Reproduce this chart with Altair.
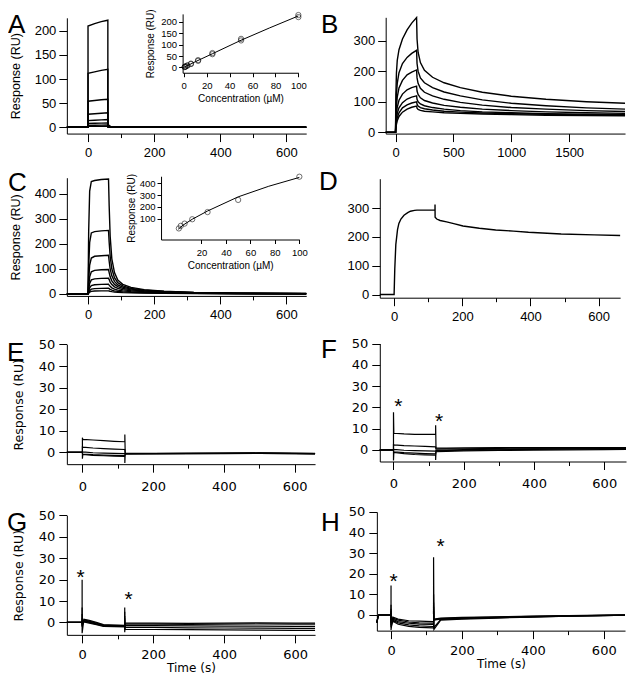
import altair as alt
import pandas as pd

# ------------------------------------------------------------------ data
# Panel A : sensorgrams (time grid shared by all traces)
A_t = [-64, 0, 0, 20, 40, 60, 60, 63, 68, 75, 90, 660]
A_traces = {
    "a1": [0, 0, 210, 215, 219, 222, 8, 4, 2, 1, 0.3, 0],
    "a2": [0, 0, 112, 115, 118, 120, 5, 3, 1.5, 0.8, 0.2, 0],
    "a3": [0, 0, 54, 55.5, 57, 58, 3, 2, 1, 0.5, 0.1, 0],
    "a4": [0, 0, 27, 28, 29, 30, 2, 1, 0.6, 0.3, 0.1, 0],
    "a5": [0, 0, 14, 14.7, 15.3, 16, 1.5, 0.8, 0.4, 0.2, 0, 0],
    "a6": [0, 0, 8, 8.3, 8.6, 9, 1, 0.6, 0.3, 0.1, 0, 0],
    "a7": [0, 0, 4, 4.2, 4.4, 4.6, 0.7, 0.4, 0.2, 0.1, 0, 0],
    "a8": [0, 0, 2, 2.1, 2.2, 2.3, 0.5, 0.3, 0.1, 0, 0, 0],
}
# Panel A inset : steady-state response vs concentration (duplicates) + fit
A_conc = [0.78, 1.56, 3.13, 6.25, 12.5, 25, 50, 100]
A_resp1 = [2, 4, 8, 15, 29, 58, 118, 220]
A_resp2 = [2.5, 4.5, 9, 17, 32, 63, 125, 229]
A_fit_x = [0, 10, 25, 50, 75, 100]
A_fit_y = [0, 25, 60, 119, 173, 225]

# Panel B
B_t = [-85, 0, 3, 8, 15, 30, 60, 100, 140, 182, 186, 195, 215, 250, 320, 420,
       560, 750, 1000, 1300, 1650, 1983]
B_traces = {
    "b1": [0, 0, 120, 195, 235, 270, 305, 335, 357, 375, 305, 262, 228, 203, 180, 162, 146, 131, 118, 108, 100, 95],
    "b2": [0, 0, 70, 125, 160, 195, 225, 245, 258, 268, 225, 200, 178, 162, 146, 132, 119, 106, 95, 87, 80, 76],
    "b3": [0, 0, 45, 85, 115, 145, 170, 188, 197, 204, 178, 160, 144, 131, 119, 108, 98, 89, 81, 76, 71, 68],
    "b4": [0, 0, 30, 58, 82, 105, 125, 139, 146, 151, 135, 124, 113, 104, 96, 88, 82, 76, 71, 67, 64, 62],
    "b5": [0, 0, 22, 43, 62, 80, 97, 109, 115, 119, 108, 100, 93, 87, 81, 76, 71, 67, 64, 61, 59, 58],
    "b6": [0, 0, 17, 33, 48, 64, 80, 90, 96, 100, 92, 86, 81, 77, 73, 69, 66, 63, 61, 59, 57, 56],
    "b7": [0, 0, 13, 26, 38, 52, 66, 76, 82, 86, 79, 75, 72, 69, 67, 64, 62, 60, 58, 56, 55, 54],
}

# Panel C
C_t = [-64, 0, 2, 5, 10, 20, 40, 62, 64, 67, 72, 80, 90, 105, 130, 170, 230, 320, 450, 660]
C_traces = {
    "c1": [0, 0, 250, 410, 448, 452, 456, 458, 350, 230, 140, 85, 55, 38, 26, 17, 11, 6, 3, 1.5],
    "c2": [0, 0, 110, 205, 243, 248, 251, 253, 205, 150, 100, 65, 45, 32, 22, 15, 10, 5.5, 2.8, 1.4],
    "c3": [0, 0, 55, 115, 143, 150, 152, 154, 130, 100, 72, 50, 36, 27, 19, 13, 9, 5, 2.5, 1.2],
    "c4": [0, 0, 30, 68, 88, 94, 96, 97, 85, 68, 52, 38, 29, 22, 16, 11, 7.5, 4.3, 2.2, 1],
    "c5": [0, 0, 18, 42, 56, 60, 62, 63, 57, 47, 37, 28, 22, 17, 12.5, 9, 6, 3.6, 1.9, 0.9],
    "c6": [0, 0, 10, 24, 33, 36.5, 38, 38.5, 35, 30, 24, 19, 15, 12, 9, 6.5, 4.5, 2.8, 1.5, 0.7],
    "c7": [0, 0, 5, 13, 19, 21, 22, 22.5, 21, 18, 15, 12, 10, 8, 6, 4.5, 3.2, 2, 1.1, 0.5],
    "c8": [0, 0, 3, 7, 10, 11.5, 12, 12.3, 11.5, 10.3, 9, 7.5, 6.3, 5, 4, 3, 2.2, 1.4, 0.8, 0.4],
}
C_conc = [1.56, 3.13, 6.25, 12.5, 25, 50, 100]
C_resp = [17, 39, 58, 95, 156, 259, 456]
C_fit_x = [1, 5, 12.5, 25, 50, 75, 100]
C_fit_y = [10, 45, 95, 165, 285, 375, 450]

# Panel D
D_t = [-42, 0, 2, 5, 10, 14, 20, 29, 40, 48, 60, 67, 90, 120, 120, 120.3, 125, 135,
       154, 175, 202, 250, 298, 350, 394, 490, 587, 663]
D_traces = {
    "d1": [0, 0, 90, 173, 225, 247, 262, 275, 284, 289, 292, 293, 293, 293, 312, 268, 262,
           257, 252, 246, 238, 230, 224, 220, 216, 210, 207, 205],
}

# Panel E
E_t = [-44, 0, 0, 1, 30, 60, 90, 120, 120, 121, 200, 300, 400, 500, 600, 658]
E_traces = {
    "e1": [0, 0, 6.8, 6, 5.7, 5.4, 5.1, 4.9, 8.3, -0.4, -0.5, -0.5, -0.4, -0.3, -0.5, -0.5],
    "e2": [0, 0, 2.8, 2.4, 2, 1.7, 1.5, 1.3, 1.3, -0.5, -0.6, -0.5, -0.5, -0.4, -0.5, -0.6],
    "e3": [0, 0, 0.5, 0.2, -0.2, -0.4, -0.5, -0.6, -0.6, -0.6, -0.6, -0.5, -0.5, -0.5, -0.5, -0.6],
    "e4": [0, 0, -0.5, -0.8, -1.1, -1.3, -1.4, -1.5, -1.5, -0.7, -0.6, -0.6, -0.5, -0.5, -0.6, -0.6],
    "e5": [0, 0, -3, -1, -1.4, -1.6, -1.8, -1.9, -5, -0.7, -0.6, -0.6, -0.6, -0.5, -0.6, -0.7],
}

# Panel F
F_t = [-39, 0, 0, 1, 30, 60, 90, 120, 120, 121, 150, 200, 300, 400, 500, 600, 662]
F_traces = {
    "f1": [0, 0, 17.7, 7.8, 7.5, 7.3, 7.3, 7.4, 11.5, 0.8, 0.8, 0.9, 1.0, 1.0, 1.0, 1.1, 1.1],
    "f2": [0, 0, 2.8, 2.3, 2.0, 1.8, 1.6, 1.4, 1.4, 0.3, 0.4, 0.5, 0.7, 0.8, 0.8, 0.9, 0.9],
    "f3": [0, 0, 0.5, 0.2, -0.2, -0.4, -0.5, -0.6, -0.6, -0.3, -0.1, 0.1, 0.3, 0.5, 0.5, 0.6, 0.6],
    "f4": [0, 0, -0.5, -0.9, -1.3, -1.6, -1.8, -1.9, -1.9, -0.6, -0.4, -0.2, 0.0, 0.2, 0.3, 0.4, 0.4],
    "f5": [0, 0, -5, -1.2, -1.8, -2.2, -2.4, -2.5, -4.8, -0.9, -0.7, -0.5, -0.3, -0.1, 0.0, 0.1, 0.2],
}
F_star_t = [14, 130]
F_star_v = [23, 16]

# Panel G
G_t = [-43, 0, 0, 0, 5, 20, 40, 60, 90, 120, 120, 120, 121, 200, 300, 400, 500, 600, 656]
G_traces = {
    "g1": [0, 0, 20, -5, 1.5, 1.0, 0.0, -1.0, -1.2, -1.3, 7, -4.6, -0.3, -0.3, -0.4, -0.3, -0.2, -0.3, -0.3],
    "g2": [0, 0, 7, -2, 1.2, 0.6, -0.3, -1.2, -1.4, -1.5, 5, -3, -0.8, -0.8, -0.9, -0.8, -0.7, -0.8, -0.8],
    "g3": [0, 0, 4, -1, 0.8, 0.3, -0.6, -1.4, -1.6, -1.7, 3, -2.5, -1.5, -1.5, -1.6, -1.7, -1.7, -1.8, -1.8],
    "g4": [0, 0, 2, -1, 0.5, 0, -0.8, -1.6, -1.8, -1.9, 2, -3, -2.2, -2.3, -2.5, -2.6, -2.7, -2.8, -2.8],
    "g5": [0, 0, 1, -1, 0.2, -0.3, -1.0, -1.8, -2.0, -2.1, 1, -3.5, -3.2, -3.3, -3.4, -3.5, -3.6, -3.7, -3.7],
}
G_star_t = [-4, 131]
G_star_v = [23.4, 13.3]

# Panel H
H_t = [-40, -37, -35, 0, 0, 0, 5, 20, 50, 80, 118, 120, 120, 121, 140, 200, 300, 400, 500, 600, 660]
H_traces = {
    "h1": [-3.7, -1, 0, 0, 14.3, -7.3, -1, -2, -2.8, -3, -3.2, -3.3, 28, -2, -1.5, -1.2, -0.9, -0.6, -0.3, -0.1, 0],
    "h2": [-3.7, -1, 0, 0, 5, -4, -1.5, -2.5, -3.4, -3.8, -4.0, -4.1, 10, -2.3, -1.8, -1.4, -1.0, -0.7, -0.4, -0.2, 0],
    "h3": [-3.7, -1, 0, 0, 3, -3, -2, -3.2, -4.0, -4.4, -4.6, -4.7, 6, -2.5, -2.0, -1.6, -1.1, -0.8, -0.5, -0.2, -0.1],
    "h4": [-3.7, -1, 0, 0, 2, -5, -2.5, -3.8, -4.8, -5.3, -5.6, -5.7, 4, -6, -2.2, -1.8, -1.3, -0.9, -0.6, -0.3, -0.1],
    "h5": [-3.7, -1, 0, 0, 1, -6, -3, -4.5, -5.5, -6.0, -6.3, -6.4, 2, -7, -2.5, -2.0, -1.5, -1.0, -0.6, -0.3, -0.1],
}
H_star_t = [7, 140]
H_star_v = [18.9, 36]

PANEL_LETTERS = ["A", "B", "C", "D", "E", "F", "G", "H"]

# ------------------------------------------------------------------ layout
W, H = 619, 671
SX = 619 / 631
SY = 671 / 684


def PX(x):
    return (x - 3) * SX


def PY(y):
    return (y - 2) * SY


def traces_df(t, traces):
    rows = []
    for name, vals in traces.items():
        for i, (tt, v) in enumerate(zip(t, vals)):
            rows.append({"t": tt, "v": v, "trace": name, "i": i})
    return pd.DataFrame(rows)


BASE_AX = dict(domainColor="black", tickColor="black", labelColor="black",
               titleColor="black", grid=False, domainWidth=1, tickWidth=1,
               labelFlush=False, labelOverlap=False, titleFontWeight="normal",
               format="d")

SANS = "Liberation Sans"
ROUND = "DejaVu Sans"


def xaxis(ax_y, values, font, size, major=None, tick=8, minor=4, pad=2,
          title=None, tsize=13, tpad=2):
    kw = dict(BASE_AX)
    kw.update(orient="bottom", offset=PY(ax_y) - H, values=values,
              labelFont=font, labelFontSize=size, labelPadding=pad)
    if major:
        kw["labelExpr"] = f"datum.value % {major} === 0 ? datum.label : ''"
        kw["tickSize"] = {"condition": {"test": f"datum.value % {major} === 0", "value": tick},
                          "value": minor}
    else:
        kw["tickSize"] = tick
    if title:
        kw.update(title=title, titleFont=font, titleFontSize=tsize, titlePadding=tpad)
    else:
        kw["title"] = None
    return alt.Axis(**kw)


def yaxis(ax_x, values, font, size, tick=8, pad=3, title=None, tsize=12.5, tpad=10):
    kw = dict(BASE_AX)
    kw.update(orient="left", offset=-PX(ax_x), values=values, labelFont=font,
              labelFontSize=size, labelPadding=pad, tickSize=tick)
    if title:
        kw.update(title=title, titleFont=font, titleFontSize=tsize, titlePadding=tpad)
    else:
        kw["title"] = None
    return alt.Axis(**kw)


def scl(dom, rng):
    return alt.Scale(domain=dom, range=rng, nice=False, zero=False)


def lines(df, xd, yd, box, xax, yax, sw=1.4, xf="t", yf="v"):
    x0, x1, yb, yt = box
    return alt.Chart(df).mark_line(color="black", strokeWidth=sw).encode(
        x=alt.X(f"{xf}:Q", scale=scl(xd, [PX(x0), PX(x1)]), axis=xax, title=None),
        y=alt.Y(f"{yf}:Q", scale=scl(yd, [PY(yb), PY(yt)]), axis=yax, title=None),
        detail="trace:N",
        order="i:Q",
    )


def stars(ts, vs, xd, yd, box):
    x0, x1, yb, yt = box
    df = pd.DataFrame({"t": ts, "v": vs, "s": ["*"] * len(ts)})
    return alt.Chart(df).mark_text(font=SANS, fontSize=21, color="black", dy=12,
                                   baseline="alphabetic").encode(
        x=alt.X("t:Q", scale=scl(xd, [PX(x0), PX(x1)]), axis=None),
        y=alt.Y("v:Q", scale=scl(yd, [PY(yb), PY(yt)]), axis=None),
        text="s:N",
    )


def letter(ch, x, ybase):
    df = pd.DataFrame({"s": [ch]})
    return alt.Chart(df).mark_text(font=SANS, fontSize=26, color="black", align="left",
                                   baseline="alphabetic").encode(
        x=alt.value(PX(x)), y=alt.value(max(PY(ybase) + 2, 24.5)), text="s:N")


layers = []

# ---- A
boxA = (63, 307, 130, 12)
xdA, ydA = [-64, 660], [-13, 227]
layers.append(lines(traces_df(A_t, A_traces), xdA, ydA, boxA,
                    xaxis(130, list(range(0, 601, 100)), SANS, 13, major=200, tick=8, minor=4, pad=5),
                    yaxis(63, [0, 50, 100, 150, 200], SANS, 13, title="Response (RU)", tpad=12)))
# A inset
boxAi = (181, 299, 68, 8)
xdAi, ydAi = [-1, 100], [-23, 234]
dfAi = pd.DataFrame({"c": A_conc + A_conc, "r": A_resp1 + A_resp2, "trace": "p", "i": 0})
dfAf = pd.DataFrame({"c": A_fit_x, "r": A_fit_y, "trace": "fit", "i": range(len(A_fit_x))})
layers.append(lines(dfAf, xdAi, ydAi, boxAi,
                    xaxis(68, [0, 20, 40, 60, 80, 100], SANS, 9.5, tick=4, pad=4,
                          title="Concentration (\u00b5M)", tsize=10, tpad=3),
                    yaxis(181, [0, 50, 100, 150, 200], SANS, 9.5, tick=4, pad=2,
                          title="Response (RU)", tsize=10, tpad=5),
                    sw=1, xf="c", yf="r"))
layers.append(alt.Chart(dfAi).mark_point(shape="circle", filled=False, size=28, color="black",
                                         strokeWidth=0.8).encode(
    x=alt.X("c:Q", scale=scl(xdAi, [PX(181), PX(299)]), axis=None),
    y=alt.Y("r:Q", scale=scl(ydAi, [PY(68), PY(8)]), axis=None)))

# ---- B
boxB = (388, 632, 130, 11.5)
xdB, ydB = [-85, 1983], [-4, 376]
layers.append(lines(traces_df(B_t, B_traces), xdB, ydB, boxB,
                    xaxis(130, [0, 500, 1000, 1500], SANS, 13, tick=8, pad=5),
                    yaxis(388, [0, 100, 200, 300], SANS, 13)))

# ---- C
boxC = (63, 307, 295.5, 175)
xdC, ydC = [-64, 660], [-8, 463]
layers.append(lines(traces_df(C_t, C_traces), xdC, ydC, boxC,
                    xaxis(295.5, list(range(0, 601, 100)), SANS, 13, major=200, tick=8, minor=4, pad=5),
                    yaxis(63, [0, 100, 200, 300, 400], SANS, 13, title="Response (RU)", tpad=12)))
boxCi = (159, 300, 238, 173.5)
xdCi, ydCi = [-13, 100], [-77, 460]
dfCi = pd.DataFrame({"c": C_conc, "r": C_resp, "trace": "p", "i": 0})
dfCf = pd.DataFrame({"c": C_fit_x, "r": C_fit_y, "trace": "fit", "i": range(len(C_fit_x))})
layers.append(lines(dfCf, xdCi, ydCi, boxCi,
                    xaxis(238, [20, 40, 60, 80, 100], SANS, 9.5, tick=4, pad=4,
                          title="Concentration (\u00b5M)", tsize=10, tpad=3),
                    yaxis(159, [100, 200, 300, 400], SANS, 9.5, tick=4, pad=2,
                          title="Response (RU)", tsize=10, tpad=3),
                    sw=1, xf="c", yf="r"))
layers.append(alt.Chart(dfCi).mark_point(shape="circle", filled=False, size=28, color="black",
                                         strokeWidth=0.8).encode(
    x=alt.X("c:Q", scale=scl(xdCi, [PX(159), PX(300)]), axis=None),
    y=alt.Y("r:Q", scale=scl(ydCi, [PY(238), PY(173.5)]), axis=None)))

# ---- D
boxD = (382, 627, 297.3, 176)
xdD, ydD = [-42, 663], [-11, 402]
layers.append(lines(traces_df(D_t, D_traces), xdD, ydD, boxD,
                    xaxis(297.3, list(range(0, 601, 100)), SANS, 13, major=200, tick=8, minor=4, pad=5),
                    yaxis(382, [0, 100, 200, 300], SANS, 13)))

# ---- E
boxE = (63, 316, 467, 345)
xdE, ydE = [-44, 658], [-5.5, 50]
layers.append(lines(traces_df(E_t, E_traces), xdE, ydE, boxE,
                    xaxis(467, list(range(0, 601, 100)), ROUND, 13, major=200, tick=8, minor=4, pad=8),
                    yaxis(63, [0, 10, 20, 30, 40, 50], ROUND, 13, tick=8, pad=4,
                          title="Response (RU)", tsize=12.5, tpad=13),
                    sw=1.2))

# ---- F
boxF = (382, 633, 464.3, 344)
xdF, ydF = [-39, 662], [-5.5, 50]
layers.append(lines(traces_df(F_t, F_traces), xdF, ydF, boxF,
                    xaxis(464.3, list(range(0, 601, 100)), ROUND, 13, major=200, tick=8, minor=4, pad=8),
                    yaxis(382, [0, 10, 20, 30, 40, 50], ROUND, 13, tick=8, pad=4),
                    sw=1.2))
layers.append(stars(F_star_t, F_star_v, xdF, ydF, boxF))

# ---- G
boxG = (63, 316, 641, 519.3)
xdG, ydG = [-43, 656], [-5.8, 50]
layers.append(lines(traces_df(G_t, G_traces), xdG, ydG, boxG,
                    xaxis(641, list(range(0, 601, 100)), ROUND, 13, major=200, tick=8, minor=4, pad=6,
                          title="Time (s)", tsize=12, tpad=1),
                    yaxis(63, [0, 10, 20, 30, 40, 50], ROUND, 13, tick=8, pad=4,
                          title="Response (RU)", tsize=12.5, tpad=13),
                    sw=1.2))
layers.append(stars(G_star_t, G_star_v, xdG, ydG, boxG))

# ---- H
boxH = (379, 632, 636.7, 515.7)
xdH, ydH = [-40, 660], [-7.6, 50]
layers.append(lines(traces_df(H_t, H_traces), xdH, ydH, boxH,
                    xaxis(636.7, list(range(0, 601, 100)), ROUND, 13, major=200, tick=8, minor=4, pad=6,
                          title="Time (s)", tsize=12, tpad=1),
                    yaxis(379, [0, 10, 20, 30, 40, 50], ROUND, 13, tick=8, pad=4),
                    sw=1.2))
layers.append(stars(H_star_t, H_star_v, xdH, ydH, boxH))

# ---- panel letters
letter_pos = [(3, 23), (322, 23), (3, 186), (320, 185), (2, 360), (322, 357), (2, 533), (322, 533)]
for ch, (lx, ly) in zip(PANEL_LETTERS, letter_pos):
    layers.append(letter(ch, lx, ly))

chart = alt.layer(*layers).resolve_scale(
    x="independent", y="independent"
).resolve_axis(
    x="independent", y="independent"
).properties(
    width=W, height=H, padding=0,
    autosize=alt.AutoSizeParams(type="none"),
    background="white",
).configure_view(stroke=None)

chart.save("out.html", embed_options={"renderer": "svg", "actions": False})
